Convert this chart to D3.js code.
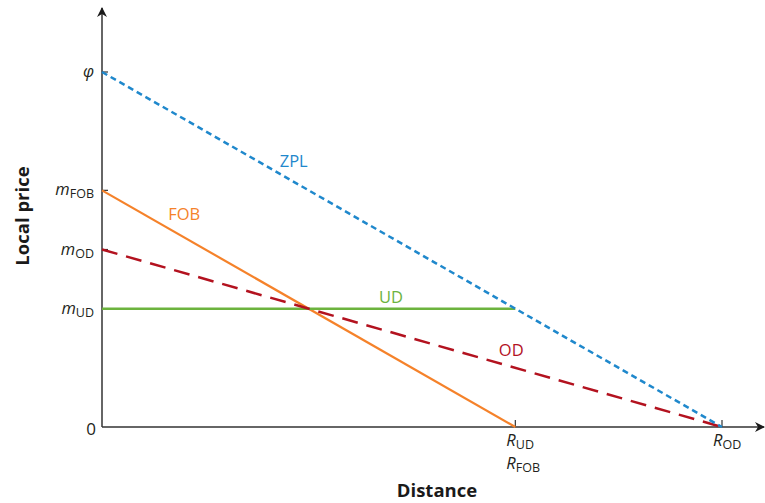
<!DOCTYPE html>
<html>
<head>
<meta charset="utf-8">
<title>Spatial pricing</title>
<style>
  body { margin: 0; background: #fff; }
  svg { display: block; font-family: 'Open Sans', 'Noto Sans', sans-serif; }
  .axis-title { font-weight: bold; font-size: 18.5px; fill: #1a1a1a; }
  .tick-lab { font-size: 15px; fill: #231f20; }
  .series-lab { font-size: 16.5px; }
</style>
</head>
<body>
<div id="chart"></div>
<script src="https://d3js.org/d3.v7.min.js"></script>
<script>
// price levels on the y axis (relative units)
var yTicks = [
  {name: "0",   sub: "",    value: 0},
  {name: "m",   sub: "UD",  value: 1},
  {name: "m",   sub: "OD",  value: 1.5},
  {name: "m",   sub: "FOB", value: 2},
  {name: "φ",   sub: "",    value: 3}
];
// market radii on the x axis
var xTicks = [
  {value: 2, labels: [["R", "UD"], ["R", "FOB"]]},
  {value: 3, labels: [["R", "OD"]]}
];
// lines: [distance, price] pairs
var seriesNames = ["ZPL", "FOB", "OD", "UD"];
var zplLine = [[0, 3], [3, 0]];
var fobLine = [[0, 2], [2, 0]];
var odLine  = [[0, 1.5], [3, 0]];
var udLine  = [[0, 1], [2, 1]];
// where each series name sits
var seriesLabelPos = [[0.86, 2.2], [0.32, 1.75], [1.92, 0.6], [1.34, 1.05]];

var width = 765, height = 503;
var x = d3.scaleLinear().domain([0, 3]).range([102, 722]);
var y = d3.scaleLinear().domain([0, 3]).range([427, 72]);

var svg = d3.select("#chart").append("svg")
    .attr("width", width).attr("height", height);

var defs = svg.append("defs");
defs.append("marker").attr("id", "arrow")
    .attr("viewBox", "0 0 10 10").attr("refX", 9).attr("refY", 5)
    .attr("markerWidth", 10).attr("markerHeight", 10)
    .attr("markerUnits", "userSpaceOnUse")
    .attr("orient", "auto")
  .append("path").attr("d", "M0,0 L10,5 L0,10 L3,5 Z").attr("fill", "#1a1a1a");

// axes
svg.append("line")
    .attr("x1", x(0)).attr("y1", y(0)).attr("x2", x(0)).attr("y2", 8)
    .attr("stroke", "#333").attr("stroke-width", 1.5)
    .attr("marker-end", "url(#arrow)");
svg.append("line")
    .attr("x1", x(0)).attr("y1", y(0)).attr("x2", 764).attr("y2", y(0))
    .attr("stroke", "#333").attr("stroke-width", 1.5)
    .attr("marker-end", "url(#arrow)");

// y ticks
yTicks.forEach(function(t) {
  if (t.value > 0) {
    svg.append("line")
      .attr("x1", x(0)).attr("x2", x(0) + 6)
      .attr("y1", y(t.value)).attr("y2", y(t.value))
      .attr("stroke", "#333").attr("stroke-width", 1.2);
  }
  var txt = svg.append("text").attr("class", "tick-lab")
      .attr("x", x(0) - 8).attr("y", y(t.value) + 5)
      .attr("text-anchor", "end");
  if (t.name === "0") {
    txt.attr("x", x(0) - 6).attr("y", y(t.value) + 8).style("font-size", "17px").text("0");
  } else {
    txt.append("tspan").style("font-style", "italic").style("font-size", "16.5px").text(t.name);
    if (t.sub) txt.append("tspan").attr("dy", 3).style("font-size", "12.5px").text(t.sub);
  }
});

// x ticks
xTicks.forEach(function(t) {
  svg.append("line")
    .attr("x1", x(t.value)).attr("x2", x(t.value))
    .attr("y1", y(0)).attr("y2", y(0) - 7)
    .attr("stroke", "#333").attr("stroke-width", 1.2);
  t.labels.forEach(function(l, i) {
    var txt = svg.append("text").attr("class", "tick-lab")
        .attr("x", x(t.value) - 9).attr("y", y(0) + 19 + i * 23);
    txt.append("tspan").style("font-style", "italic").style("font-size", "16.5px").text(l[0]);
    txt.append("tspan").attr("dy", 3).style("font-size", "12.5px").text(l[1]);
  });
});

// series
var line = d3.line().x(function(d) { return x(d[0]); }).y(function(d) { return y(d[1]); });
var styles = [
  {data: zplLine, color: "#1f88cc", width: 2.5, dash: "6,4"},
  {data: fobLine, color: "#f5822a", width: 2.2, dash: null},
  {data: odLine,  color: "#b3121f", width: 2.5, dash: "16,9"},
  {data: udLine,  color: "#6cb33e", width: 2.5, dash: null}
];
// draw order: FOB, UD, OD, ZPL
[1, 3, 2, 0].forEach(function(i) {
  var s = styles[i];
  svg.append("path").datum(s.data)
    .attr("d", line).attr("fill", "none")
    .attr("stroke", s.color).attr("stroke-width", s.width)
    .attr("stroke-dasharray", s.dash);
});

seriesNames.forEach(function(n, i) {
  svg.append("text").attr("class", "series-lab")
    .attr("x", x(seriesLabelPos[i][0])).attr("y", y(seriesLabelPos[i][1]))
    .attr("fill", styles[i].color)
    .text(n);
});

// axis titles
svg.append("text").attr("class", "axis-title")
  .attr("transform", "translate(29,216) rotate(-90)")
  .attr("text-anchor", "middle").text("Local price");
svg.append("text").attr("class", "axis-title")
  .attr("x", 437).attr("y", 497)
  .attr("text-anchor", "middle").text("Distance");
</script>
</body>
</html>
